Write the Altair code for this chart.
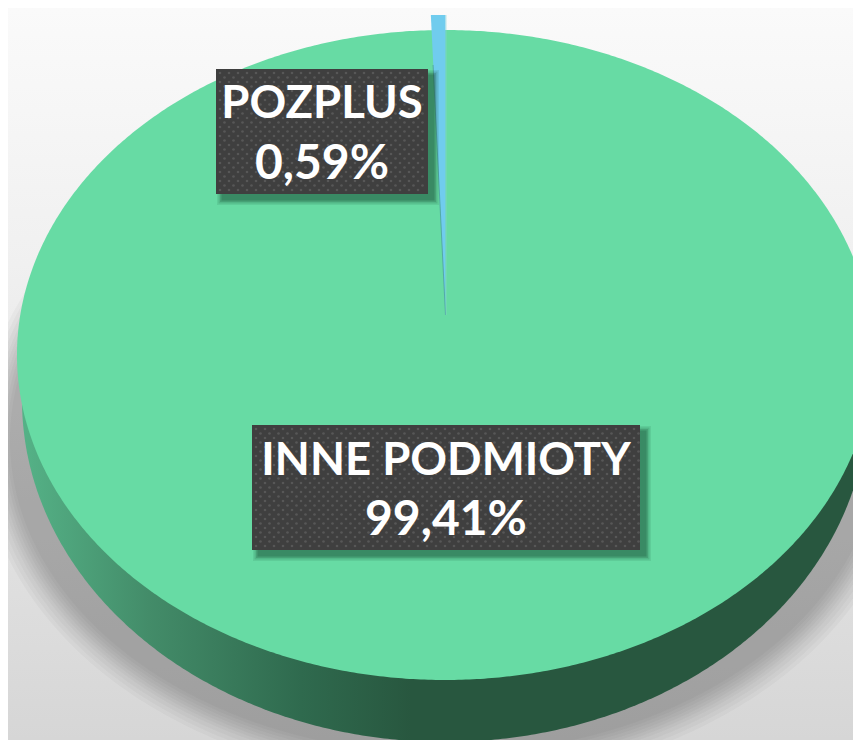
import numpy as np
import pandas as pd
import altair as alt

CATEGORIES = ["INNE PODMIOTY", "POZPLUS"]
SHARES = [99.41, 0.59]
SHARE_LABELS = ["99,41%", "0,59%"]

W, H = 845, 732
CX, CY, A, B = 445.0, 355.0, 428.0, 325.0
LX, LY, LA, LB = 445.0, 400.0, 423.0, 342.0
TIP_X, TIP_Y, WEDGE_TOP = 445.5, 315.0, 15.0
PIE_GREEN = "#67DBA4"
BOX_COLOR = "#3F3F3F"
FONT = "Lato"

xs = alt.Scale(domain=[8, 853], range=[0, W], nice=False, zero=False)
ys = alt.Scale(domain=[740, 8], range=[H, 0], nice=False, zero=False)
X = lambda f: alt.X(f, type="quantitative", scale=xs, axis=None)
Y = lambda f: alt.Y(f, type="quantitative", scale=ys, axis=None)


def ellipse(cx, cy, a, b, n=360):
    t = np.linspace(0, np.pi, n)
    x = cx - a * np.cos(t)
    d = b * np.sin(t)
    return pd.DataFrame({"x": x, "y": cy - d, "y2": cy + d})


def area(df, **kw):
    return alt.Chart(df).mark_area(line=False, clip=True, **kw).encode(
        x=X("x"), y=Y("y"), y2=alt.Y2("y2"))


def grad(stops, horizontal=True):
    return alt.Gradient(
        gradient="linear",
        stops=[alt.GradientStop(offset=o, color=c) for o, c in stops],
        x1=0, x2=1 if horizontal else 0, y1=0, y2=0 if horizontal else 1)


# background
bg = alt.Chart(pd.DataFrame({"x": [8], "x2": [853], "y": [8], "y2": [740]})).mark_rect(
    fill=grad([(0, "#FAFAFA"), (0.35, "#F0F0F0"), (0.7, "#E2E2E2"), (1, "#D6D6D6")], False)
).encode(x=X("x"), x2="x2", y=Y("y"), y2="y2")

# soft shadow below the pie
shadow_layers = [
    area(ellipse(LX, 440, LA + k, 302 + k), fill="#000000", opacity=0.027)
    for k in (42, 38, 34, 30, 27, 24, 21, 18, 15, 12)
]

# pie side wall and top face
side = area(ellipse(LX, LY, LA, LB), fill=grad([
    (0, "#55B287"), (0.15, "#438C69"), (0.33, "#2F6A4E"), (0.46, "#28573F"), (1, "#28573F")]))
top = area(ellipse(CX, CY, A, B), fill=PIE_GREEN)

# the small slice, its angle taken from its share
frac = SHARES[1] / sum(SHARES)
half_span = 2 * np.pi * frac
wedge_h = TIP_Y - WEDGE_TOP
left_x = TIP_X - (A / B) * np.tan(half_span) * wedge_h
wx = np.array([left_x, TIP_X])
wedge_df = pd.DataFrame({"x": wx, "y": [WEDGE_TOP, WEDGE_TOP], "y2": [WEDGE_TOP, TIP_Y]})
wedge = area(wedge_df, fill="#70CCEE")
edge_df = pd.DataFrame({"x": [left_x + 2.2, TIP_X], "y": [WEDGE_TOP + 50, TIP_Y]})
edge = alt.Chart(edge_df).mark_line(color="#4E9FA0", strokeWidth=1, opacity=0.8).encode(
    x=X("x"), y=Y("y"))
right_edge_df = pd.DataFrame({"x": [TIP_X + 0.6, TIP_X + 0.6], "y": [WEDGE_TOP, TIP_Y]})
right_edge = alt.Chart(right_edge_df).mark_line(color="#8FD8D8", strokeWidth=0.8, opacity=0.6).encode(
    x=X("x"), y=Y("y"))

# data labels
BOXES = [(252, 640, 425, 550), (216, 428, 69, 194)]
NAME_Y = [461, 104]
VALUE_Y = [521, 165]
label_layers = []
for i, (x0, x1, y0, y1) in enumerate(BOXES):
    for k, op in ((5, 0.10), (3.5, 0.16), (2, 0.20), (0.5, 0.26)):
        sh = pd.DataFrame({"x": [x0 + 6 - k], "x2": [x1 + 6 + k], "y": [y0 + 6 - k], "y2": [y1 + 6 + k]})
        label_layers.append(alt.Chart(sh).mark_rect(fill="#174A32", opacity=op).encode(
            x=X("x"), x2="x2", y=Y("y"), y2="y2"))
    box = pd.DataFrame({"x": [x0], "x2": [x1], "y": [y0], "y2": [y1]})
    label_layers.append(alt.Chart(box).mark_rect(fill=BOX_COLOR).encode(
        x=X("x"), x2="x2", y=Y("y"), y2="y2"))
    dots = []
    for r, yy in enumerate(np.arange(y0 + 4, y1 - 1, 4.5)):
        for xx in np.arange(x0 + 4 + (4.5 if r % 2 else 0), x1 - 1, 9):
            dots.append({"x": float(xx), "y": float(yy)})
    label_layers.append(alt.Chart(pd.DataFrame(dots)).mark_circle(
        size=7, color="#686868", opacity=0.6).encode(x=X("x"), y=Y("y")))
    cx = (x0 + x1) / 2
    name = pd.DataFrame({"x": [cx], "y": [NAME_Y[i]], "t": [CATEGORIES[i]]})
    value = pd.DataFrame({"x": [cx], "y": [VALUE_Y[i]], "t": [SHARE_LABELS[i]]})
    for frame, size in ((name, 45.5), (value, 48)):
        label_layers.append(alt.Chart(frame).mark_text(
            font=FONT, fontWeight="bold", fontSize=size, color="#FFFFFF",
            align="center", baseline="middle").encode(x=X("x"), y=Y("y"), text="t:N"))

chart = alt.layer(bg, *shadow_layers, side, top, wedge, edge, right_edge, *label_layers).properties(
    width=W, height=H, padding=0, autosize=alt.AutoSizeParams(type="none"),
    background="#FFFFFF"
).configure_view(stroke=None)

chart.save("out.html", embed_options={"renderer": "svg", "actions": False})
